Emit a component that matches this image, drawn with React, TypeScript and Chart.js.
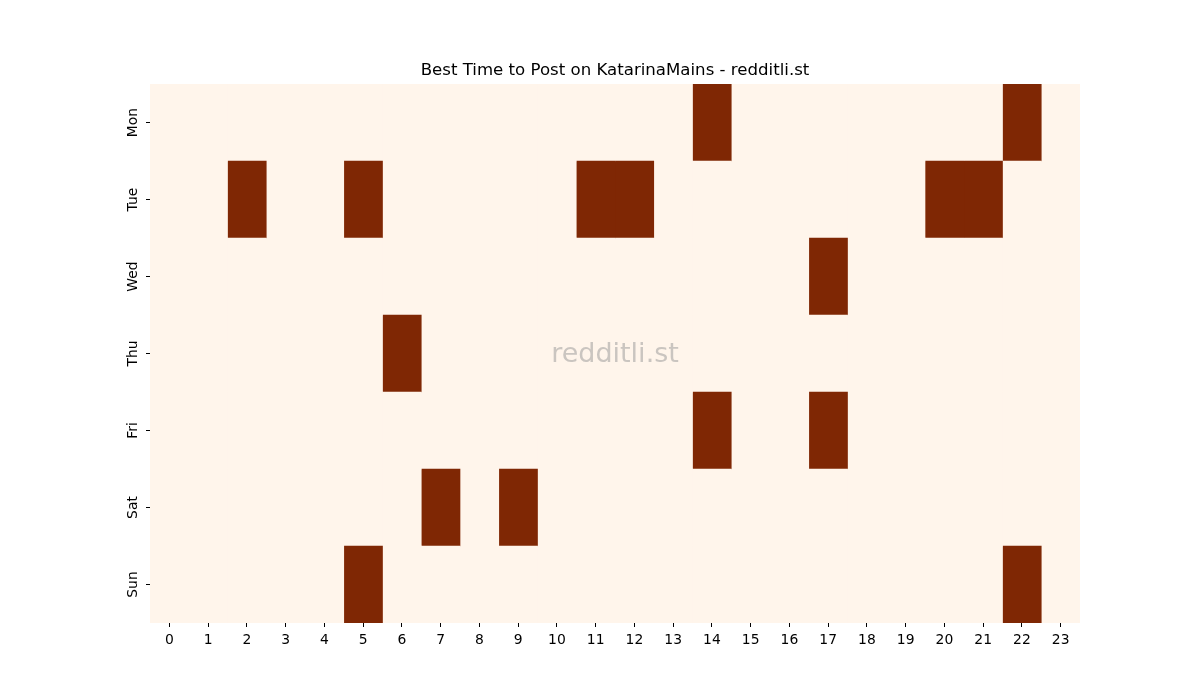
import { useEffect, useRef } from "react";
import { Chart, registerables } from "chart.js";

Chart.register(...registerables);

const days = ["Mon", "Tue", "Wed", "Thu", "Fri", "Sat", "Sun"];
const hours = Array.from({ length: 24 }, (_, i) => i);

// hours flagged as best-time per day (value 1), everything else is 0
const monHours = [14, 22];
const tueHours = [2, 5, 11, 12, 20, 21];
const wedHours = [17];
const thuHours = [6];
const friHours = [14, 17];
const satHours = [7, 9];
const sunHours = [5, 22];
const bestHours = [monHours, tueHours, wedHours, thuHours, friHours, satHours, sunHours];

const LOW = "#fff5eb";
const HIGH = "#7f2704";
const FONT = "'DejaVu Sans', sans-serif";

const watermark = {
  id: "watermark",
  afterDatasetsDraw(chart: Chart) {
    const { ctx, chartArea } = chart;
    ctx.save();
    ctx.font = `27px ${FONT}`;
    ctx.fillStyle = "rgba(150,150,150,0.5)";
    ctx.textAlign = "center";
    ctx.textBaseline = "middle";
    ctx.fillText("redditli.st", (chartArea.left + chartArea.right) / 2, (chartArea.top + chartArea.bottom) / 2 + 1);
    ctx.restore();
  },
};

const tickGrid = { display: true, offset: false, drawOnChartArea: false, drawTicks: true, tickLength: 4, tickColor: "#000", tickWidth: 1 };

export default function App() {
  const ref = useRef<HTMLCanvasElement>(null);
  useEffect(() => {
    const datasets = hours.map((h) => ({
      label: String(h),
      data: days.map(() => [h - 0.5, h + 0.5] as [number, number]),
      backgroundColor: days.map((_, d) => (bestHours[d].includes(h) ? HIGH : LOW)),
      borderWidth: 0,
      barPercentage: 1,
      categoryPercentage: 1,
      grouped: false,
    }));
    const chart = new Chart(ref.current!, {
      type: "bar",
      data: { labels: days, datasets },
      options: {
        indexAxis: "y",
        animation: false,
        responsive: true,
        maintainAspectRatio: false,
        layout: { padding: { left: 120, right: 90, top: 61, bottom: 47 } },
        plugins: {
          legend: { display: false },
          tooltip: { enabled: false },
          title: {
            display: true,
            text: "Best Time to Post on KatarinaMains - redditli.st",
            color: "#000",
            font: { family: FONT, size: 16.6, weight: "normal" },
            padding: { top: 0, bottom: 3.1 },
          },
        },
        scales: {
          x: {
            type: "linear",
            min: -0.5,
            max: 23.5,
            afterBuildTicks: (scale: any) => {
              scale.ticks = hours.map((h) => ({ value: h }));
            },
            afterFit: (scale: any) => {
              scale.height = 30;
            },
            grid: tickGrid,
            border: { display: false },
            ticks: { color: "#000", font: { family: FONT, size: 13.9 }, padding: 5, maxRotation: 0, autoSkip: false },
          },
          y: {
            type: "category",
            afterFit: (scale: any) => {
              scale.width = 30;
            },
            grid: tickGrid,
            border: { display: false },
            ticks: {
              color: "#000",
              font: { family: FONT, size: 13.9 },
              padding: -2.5,
              minRotation: 90,
              maxRotation: 90,
              crossAlign: "center",
            },
          },
          // empty right-hand spacer so the title centres over the plot like the original
          yRight: {
            type: "linear",
            position: "right",
            display: true,
            afterFit: (scale: any) => {
              scale.width = 30;
            },
            grid: { display: false },
            border: { display: false },
            ticks: { display: false },
          },
        },
      },
      plugins: [watermark],
    });
    return () => chart.destroy();
  }, []);
  return (
    <div style={{ position: "fixed", left: 0, top: 0, width: 1200, height: 700, background: "#fff" }}>
      <canvas ref={ref} />
    </div>
  );
}
